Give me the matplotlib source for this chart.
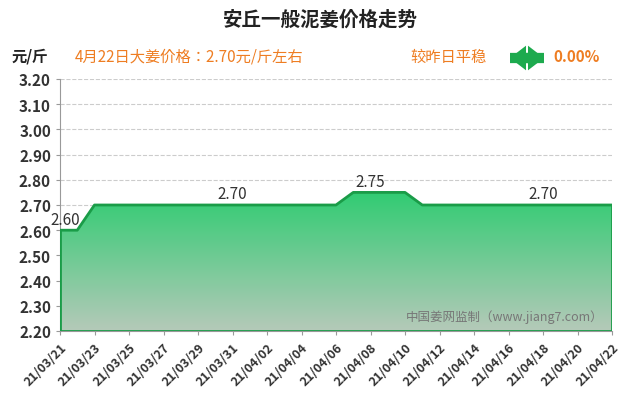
import numpy as np
import matplotlib.pyplot as plt
from matplotlib import font_manager
from matplotlib.patches import FancyArrow, Polygon
from matplotlib.colors import LinearSegmentedColormap
import datetime as dt

# pick an installed CJK font by whatever name matplotlib registered
cjk = [f.name for f in font_manager.fontManager.ttflist if 'CJK' in f.name]
cjk_pref = [n for n in cjk if 'SC' in n] + cjk
plt.rcParams['font.family'] = 'sans-serif'
plt.rcParams['font.sans-serif'] = cjk_pref[:1] + ['Noto Sans CJK SC', 'DejaVu Sans']

start = dt.date(2021, 3, 21)
dates = [start + dt.timedelta(days=i) for i in range(33)]
date_labels = [d.strftime('%y/%m/%d') for d in dates]
prices = ([2.60, 2.60] + [2.70] * 15 + [2.75] * 4 + [2.70] * 12)
annot_idx = [0, 10, 18, 28]
yticks = [2.20, 2.30, 2.40, 2.50, 2.60, 2.70, 2.80, 2.90, 3.00, 3.10, 3.20]

fig = plt.figure(figsize=(6.4, 4.1), dpi=100)
ax = fig.add_axes([60/640, 1 - 332/410, 552/640, 252/410])
ax.set_axisbelow(True)
x = np.arange(len(prices))

ax.set_xlim(0, len(prices) - 1)
ax.set_ylim(2.20, 3.20)

# gradient fill under line
grad = np.linspace(0, 1, 256).reshape(-1, 1)
cmap = LinearSegmentedColormap.from_list('g', ['#b5c9b9', '#2ecc71'])
im = ax.imshow(grad, cmap=cmap, aspect='auto', origin='lower',
               extent=[0, len(prices) - 1, 2.20, 2.76], zorder=2)
poly = Polygon(list(zip(x, prices)) + [(x[-1], 2.20), (0, 2.20)], closed=True,
               transform=ax.transData, facecolor='none', edgecolor='none')
ax.add_patch(poly)
im.set_clip_path(poly)
ax.plot(x, prices, color='#1a9c48', lw=2, zorder=3)
ax.plot([0, 0], [2.20, prices[0]], color='#1a9c48', lw=2, zorder=3)
ax.plot([x[-1], x[-1]], [2.20, prices[-1]], color='#1a9c48', lw=2, zorder=3)
ax.plot([0, x[-1]], [2.20, 2.20], color='#1a9c48', lw=2, zorder=3)

for i in annot_idx:
    ax.text(x[i] + (0.3 if i == 0 else 0), prices[i] + 0.01, f'{prices[i]:.2f}',
            ha='center', va='bottom', fontsize=11, color='#333333', zorder=4)

ax.set_yticks(yticks)
ax.set_yticklabels([f'{v:.2f}' for v in yticks], fontsize=11, fontweight='bold', color='#333333')
ax.set_xticks(x[::2])
ax.set_xticklabels(date_labels[::2], rotation=45, ha='right', fontsize=9,
                   fontweight='bold', color='#333333', rotation_mode='anchor')
ax.grid(axis='y', ls='--', color='#cccccc', lw=0.8)
for s in ['top', 'right']:
    ax.spines[s].set_visible(False)
ax.spines['left'].set_color('#999999')
ax.spines['bottom'].set_color('#999999')
ax.tick_params(length=3, colors='#999999', labelcolor='#333333')

ax.text(0.985, 0.03, '中国姜网监制（www.jiang7.com）', transform=ax.transAxes,
        ha='right', va='bottom', fontsize=9, color='#777777', zorder=5)

fig.text(0.5, 1 - 20/410, '安丘一般泥姜价格走势', ha='center', va='center',
         fontsize=14, fontweight='bold', color='#222222')
fig.text(12/640, 1 - 57/410, '元/斤', ha='left', va='center', fontsize=11,
         fontweight='bold', color='#222222')
fig.text(75/640, 1 - 57/410, '4月22日大姜价格：2.70元/斤左右', ha='left', va='center',
         fontsize=11, color='#ee7d22')
fig.text(410/640, 1 - 57/410, '较昨日平稳', ha='left', va='center',
         fontsize=11, color='#ee7d22')
fig.text(553/640, 1 - 57/410, '0.00%', ha='left', va='center',
         fontsize=11, fontweight='bold', color='#ee7d22')
yc = 1 - 59/410
for x0, dx in [(510/640, 34/640), (544/640, -34/640)]:
    fig.patches.append(FancyArrow(x0, yc, dx, 0, width=0.025,
                                  head_width=0.06, head_length=0.025,
                                  length_includes_head=True, color='#1daa4e',
                                  lw=0, transform=fig.transFigure, figure=fig))

fig.savefig('out.png', dpi=100)
